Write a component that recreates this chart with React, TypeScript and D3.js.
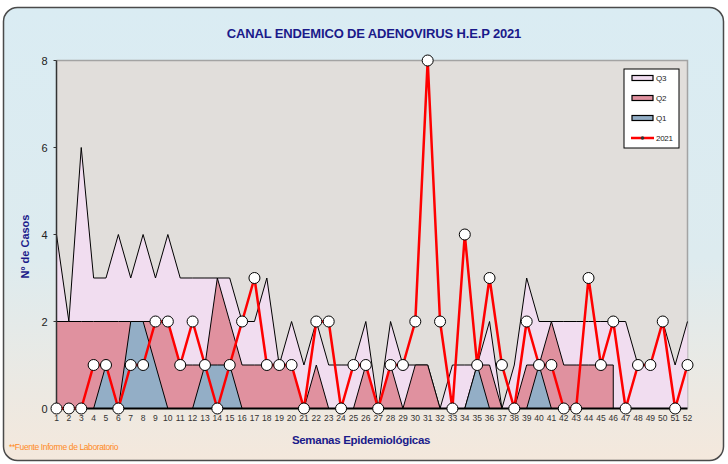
import React from "react";
import * as d3 from "d3";

const weeks = [
  1, 2, 3, 4, 5, 6, 7, 8, 9, 10, 11, 12, 13, 14, 15, 16, 17, 18, 19, 20, 21, 22, 23, 24, 25, 26,
  27, 28, 29, 30, 31, 32, 33, 34, 35, 36, 37, 38, 39, 40, 41, 42, 43, 44, 45, 46, 47, 48, 49, 50, 51, 52,
];
const q3: (number | null)[] = [
  4, 2, 6, 3, 3, 4, 3, 4, 3, 4, 3, 3, 3, 3, 3, 2, 2, 3, 1, 2, 1, 2, 1, 1, 1, 2,
  0, 2, 1, 1, 1, 0, 1, 1, 1, 2, 0, 1, 3, 2, 2, 2, 2, 2, 2, 2, 2, 1, 1, 2, 1, 2,
];
const q2: (number | null)[] = [
  2, 2, 2, 2, 2, 2, 2, 2, 2, 2, 1, 1, 1, 3, 2, 1, 1, 1, 1, 1, 0, 1, 0, 0, 0, 1,
  0, 1, 0, 1, 1, 0, 0, 0, 1, 1, 0, 0, 1, 1, 2, 1, 1, 1, 1, 1, null, null, null, null, null, null,
];
const q1: (number | null)[] = [
  0, 0, 0, 0, 1, 0, 2, 2, 1, 0, 0, 0, 1, 1, 1, 0, 0, 0, 0, 0, 0, 0, 0, 0, 0, 0,
  0, 0, 0, 0, 0, 0, 0, 0, 1, 0, 0, 0, 0, 1, 0, null, null, null, null, null, null, null, null, null, null, null,
];
const y2021 = [
  0, 0, 0, 1, 1, 0, 1, 1, 2, 2, 1, 2, 1, 0, 1, 2, 3, 1, 1, 1, 0, 2, 2, 0, 1, 1,
  0, 1, 1, 2, 8, 2, 0, 4, 1, 3, 1, 0, 2, 1, 1, 0, 0, 3, 1, 2, 0, 1, 1, 2, 0, 1,
];
const yTicks = [0, 2, 4, 6, 8];
const legendItems = [
  { key: "Q3", label: "Q3" },
  { key: "Q2", label: "Q2" },
  { key: "Q1", label: "Q1" },
  { key: "2021", label: "2021" },
];

const title = "CANAL ENDEMICO DE ADENOVIRUS H.E.P 2021";
const yLabel = "Nº de Casos";
const xLabel = "Semanas Epidemiológicas";
const footnote = "**Fuente Informe de Laboratorio";

const colors: Record<string, string> = {
  Q3: "#F1DDF0",
  Q2: "#E0919F",
  Q1: "#93AEC6",
  "2021": "#FF0000",
};

const FONT = "'Liberation Sans', Arial, sans-serif";

export default function App() {
  const W = 728;
  const H = 464;
  const plot = { left: 56.5, right: 687.5, top: 60.5, bottom: 408.5 };

  const x = d3
    .scalePoint<number>()
    .domain(weeks)
    .range([plot.left, plot.right]);
  const y = d3.scaleLinear().domain([0, 8]).range([plot.bottom, plot.top]);

  const mkArea = (vals: (number | null)[]) =>
    d3
      .area<number>()
      .defined((_, i) => vals[i] !== null)
      .x((w) => x(w)!)
      .y0(y(0))
      .y1((_, i) => y(vals[i] as number))(weeks) || "";
  const mkLine = (vals: (number | null)[]) =>
    d3
      .line<number>()
      .defined((_, i) => vals[i] !== null)
      .x((w) => x(w)!)
      .y((_, i) => y(vals[i] as number))(weeks) || "";

  const series = [
    { key: "Q3", vals: q3 },
    { key: "Q2", vals: q2 },
    { key: "Q1", vals: q1 },
  ];

  const lastIdx = (vals: (number | null)[]) => {
    let k = -1;
    vals.forEach((v, i) => {
      if (v !== null) k = i;
    });
    return k;
  };

  return (
    <svg
      width={W}
      height={H}
      style={{ position: "absolute", left: 0, top: 0 }}
      fontFamily={FONT}
    >
      <defs>
        <linearGradient id="bg" x1="0" y1="0" x2="0" y2="1">
          <stop offset="0" stopColor="#DAECF3" />
          <stop offset="0.55" stopColor="#DDEBEF" />
          <stop offset="1" stopColor="#F4E8DC" />
        </linearGradient>
      </defs>
      <rect
        x={3.5}
        y={7.5}
        width={720}
        height={453}
        rx={14}
        ry={14}
        fill="url(#bg)"
        stroke="#4A4A4A"
        strokeWidth={1.5}
      />
      <text
        x={374}
        y={38}
        textAnchor="middle"
        fontSize={13}
        fontWeight="bold"
        fill="#1A1A8A"
        letterSpacing={-0.15}
      >
        {title}
      </text>

      <rect
        x={plot.left}
        y={plot.top}
        width={plot.right - plot.left}
        height={plot.bottom - plot.top}
        fill="#E1DEDB"
      />
      <path
        d={`M${plot.left},${plot.top}H${plot.right}V${plot.bottom}`}
        fill="none"
        stroke="#A3A3A3"
        strokeWidth={1.5}
      />

      {series.map((s) => {
        const li = lastIdx(s.vals);
        return (
          <g key={s.key}>
            <path d={mkArea(s.vals)} fill={colors[s.key]} stroke="none" />
            <path d={mkLine(s.vals)} fill="none" stroke="#000" strokeWidth={1} />
            {li < weeks.length - 1 && (
              <line
                x1={x(weeks[li])}
                x2={x(weeks[li])}
                y1={y(s.vals[li] as number)}
                y2={y(0)}
                stroke="#000"
                strokeWidth={1}
              />
            )}
          </g>
        );
      })}

      <line x1={plot.left} x2={plot.left} y1={plot.top} y2={plot.bottom} stroke="#333" strokeWidth={1.5} />
      <line x1={plot.left} x2={plot.right} y1={plot.bottom} y2={plot.bottom} stroke="#000" strokeWidth={2} />
      {yTicks.map((t) => (
        <g key={t}>
          <line x1={plot.left - 3} x2={plot.left} y1={y(t)} y2={y(t)} stroke="#333" strokeWidth={1} />
          <text x={plot.left - 9} y={y(t) + 4} textAnchor="end" fontSize={11} fill="#222">
            {t}
          </text>
        </g>
      ))}
      {weeks.map((w) => (
        <text key={w} x={x(w)} y={421} textAnchor="middle" fontSize={8.5} fill="#333">
          {w}
        </text>
      ))}

      <path d={mkLine(y2021)} fill="none" stroke={colors["2021"]} strokeWidth={2.5} strokeLinejoin="round" />
      {weeks.map((w, i) => (
        <circle key={w} cx={x(w)} cy={y(y2021[i])} r={5.5} fill="#fff" stroke="#000" strokeWidth={1} />
      ))}

      <rect x={624} y={69} width={55} height={79} fill="#fff" stroke="#000" strokeWidth={1} />
      {legendItems.map((it, i) => {
        const cy = 78 + i * 20;
        return (
          <g key={it.key}>
            {it.key === "2021" ? (
              <g>
                <line x1={631} x2={654} y1={cy} y2={cy} stroke={colors[it.key]} strokeWidth={2.5} />
                <circle cx={642.5} cy={cy} r={1.8} fill="#333" />
              </g>
            ) : (
              <rect x={632} y={cy - 2.5} width={21} height={5} fill={colors[it.key]} stroke="#000" strokeWidth={1.2} />
            )}
            <text x={656} y={cy + 3} fontSize={8} fill="#222" letterSpacing={-0.3}>
              {it.label}
            </text>
          </g>
        );
      })}

      <text
        transform={`translate(29,${(plot.top + plot.bottom) / 2 + 12}) rotate(-90)`}
        textAnchor="middle"
        fontSize={11}
        fontWeight="bold"
        fill="#1A1A8A"
      >
        {yLabel}
      </text>
      <text x={361} y={444} textAnchor="middle" fontSize={11.5} fontWeight="bold" fill="#1A1A8A" letterSpacing={-0.3}>
        {xLabel}
      </text>
      <text x={9} y={450} fontSize={8.5} fill="#FF8A1E" letterSpacing={-0.4}>
        {footnote}
      </text>
    </svg>
  );
}
